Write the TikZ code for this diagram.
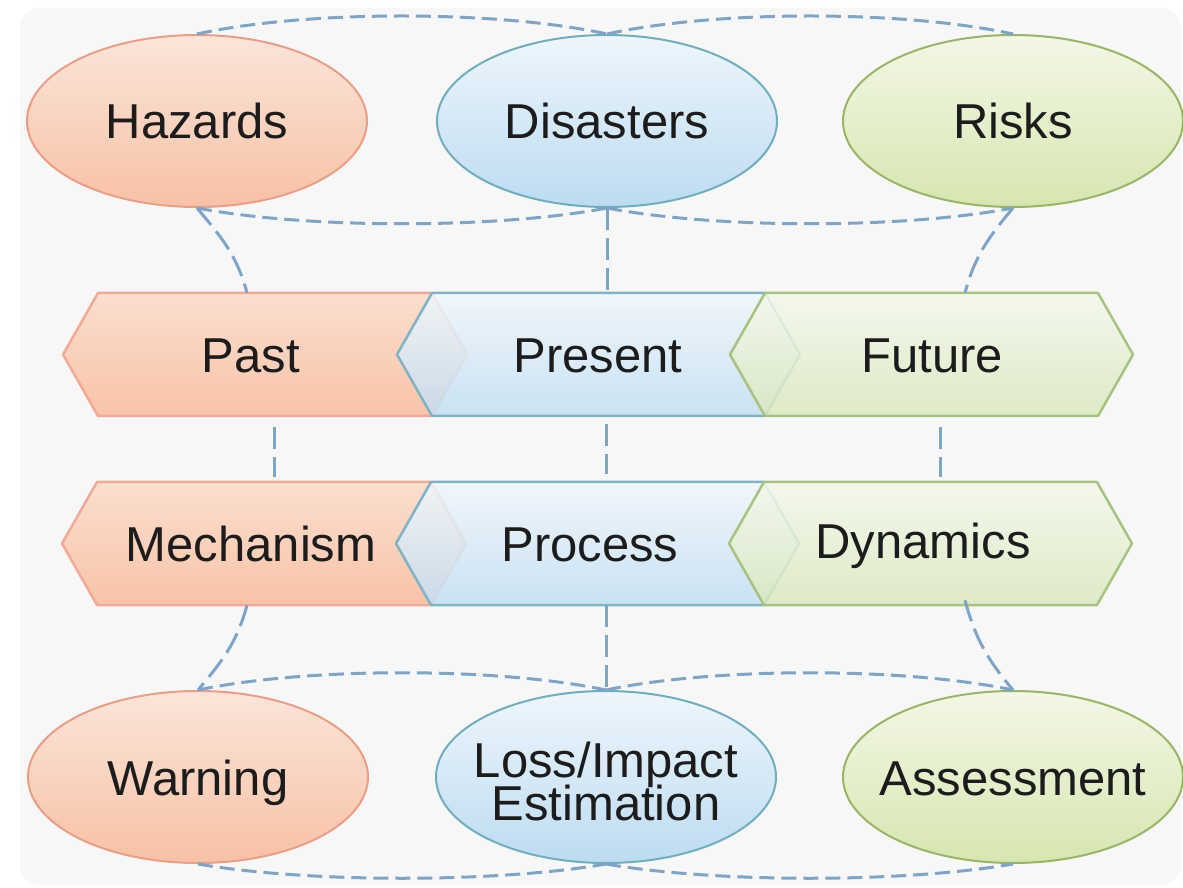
\documentclass[tikz,border=0pt]{standalone}
\usepackage{fontspec}
\setmainfont{Liberation Sans}
\usetikzlibrary{shapes.geometric,calc}
\definecolor{bgc}{HTML}{F7F7F7}
\definecolor{txt}{HTML}{1C1C1C}
\definecolor{dashc}{HTML}{7EA5C8}
\definecolor{eOs}{HTML}{EF9C87}
\definecolor{eOt}{HTML}{FBE5DA}
\definecolor{eOb}{HTML}{F7C1A5}
\definecolor{eBs}{HTML}{6FAFBD}
\definecolor{eBt}{HTML}{EEF6FC}
\definecolor{eBb}{HTML}{BDDBF1}
\definecolor{eGs}{HTML}{9AB565}
\definecolor{eGt}{HTML}{F3F7E7}
\definecolor{eGb}{HTML}{D7E6B0}
\definecolor{cOs}{HTML}{F3A997}
\definecolor{cOt}{HTML}{FBDECF}
\definecolor{cOb}{HTML}{F8C3A7}
\definecolor{cBs}{HTML}{80B4C4}
\definecolor{cBt}{HTML}{F0F6FC}
\definecolor{cBb}{HTML}{C2DFF3}
\definecolor{cGs}{HTML}{A8C282}
\definecolor{cGt}{HTML}{F4F8EB}
\definecolor{cGb}{HTML}{DAE8BF}
\newcommand\mybigfont{\fontsize{49}{43}\selectfont\lineskiplimit=-60pt\relax}
\begin{document}
\begin{tikzpicture}[x=1pt,y=1pt,
  bigfont/.style={font=\mybigfont},
  ell/.style={ellipse, minimum width=340pt, minimum height=172pt, inner xsep=-60pt, inner ysep=0pt,
    line width=2pt, bigfont, text=txt, text height=36pt, text depth=0pt},
  ellO/.style={ell, draw=eOs, top color=eOt, bottom color=eOb},
  ellB/.style={ell, draw=eBs, top color=eBt, bottom color=eBb},
  ellG/.style={ell, draw=eGs, top color=eGt, bottom color=eGb},
  chtxt/.style={rectangle, minimum height=123pt, inner sep=0pt, text height=36pt,
    text depth=0pt, bigfont, text=txt},
  chevO/.style={draw=cOs, line width=2.5pt, line join=round, top color=cOt, bottom color=cOb},
  chevB/.style={draw=cBs, line width=2.5pt, line join=round, top color=cBt, bottom color=cBb, fill opacity=0.85},
  chevG/.style={draw=cGs, line width=2.5pt, line join=round, top color=cGt, bottom color=cGb, fill opacity=0.85},
  arcline/.style={draw=dashc, line width=3pt, dash pattern=on 15pt off 7pt},
  conn/.style={draw=dashc, line width=3pt, dash pattern=on 22pt off 8pt},
]
\useasboundingbox (0,0) rectangle (1183,887);
\fill[white] (0,0) rectangle (1183,887);
\fill[bgc, rounded corners=20pt] (20,2) rectangle (1181,879);

% row 1 chevrons
\path[chevO] (63,532.5) -- (98,594) -- (432,594) -- (467,532.5) -- (432,471) -- (98,471) -- cycle;
\path[chevB] (397,532.5) -- (432,594) -- (765,594) -- (800,532.5) -- (765,471) -- (432,471) -- cycle;
\path[chevG] (730,532.5) -- (765,594) -- (1098,594) -- (1133,532.5) -- (1098,471) -- (765,471) -- cycle;
% row 2 chevrons
\path[chevO] (62,343.5) -- (97,405) -- (431,405) -- (466,343.5) -- (431,282) -- (97,282) -- cycle;
\path[chevB] (396,343.5) -- (431,405) -- (764,405) -- (799,343.5) -- (764,282) -- (431,282) -- cycle;
\path[chevG] (729,343.5) -- (764,405) -- (1097,405) -- (1132,343.5) -- (1097,282) -- (764,282) -- cycle;

\node[chtxt] (past) at (251,532.5) {Past};
\node[chtxt] (present) at (598,532.5) {Present};
\node[chtxt] (future) at (932,532.5) {Future};
\node[chtxt] (mech) at (251,343.5) {Mechanism};
\node[chtxt] (process) at (590,343.5) {Process};
\node[chtxt] (dyn) at (923,346) {Dynamics};

% ellipses
\node[ellO] (haz) at (197,766) {Hazards};
\node[ellB] (dis) at (607,766) {Disasters};
\node[ellG] (risk) at (1013,766) {Risks};
\node[ellO] (warn) at (198,110) {Warning};
\node[ellB] (loss) at (606,110) {};
\node[bigfont, align=center, inner sep=0pt, text=txt] (lossT) at (606,106) {Loss/Impact\\Estimation};
\node[ellG] (assess) at (1013,110) {Assessment};

% arcs
\draw[arcline] (haz.north) .. controls +(110,24) and +(-110,24) .. (dis.north);
\draw[arcline] (dis.north) .. controls +(110,24) and +(-110,24) .. (risk.north);
\draw[arcline] (haz.south) .. controls +(110,-21) and +(-110,-21) .. (dis.south);
\draw[arcline] (dis.south) .. controls +(110,-21) and +(-110,-21) .. (risk.south);
\draw[arcline] (warn.north) .. controls +(110,23) and +(-110,23) .. (loss.north);
\draw[arcline] (loss.north) .. controls +(110,23) and +(-110,23) .. (assess.north);
\draw[arcline] (warn.south) .. controls +(110,-19) and +(-110,-19) .. (loss.south);
\draw[arcline] (loss.south) .. controls +(110,-19) and +(-110,-19) .. (assess.south);

% connectors
\draw[conn] (haz.south) to[out=-50,in=105] ([xshift=-4pt]past.north);
\draw[conn] (dis.south) -- (dis.south |- present.north);
\draw[conn] (risk.south) to[out=-130,in=75] ([xshift=33pt]future.north);
\draw[conn] ([xshift=23pt,yshift=-11pt]past.south) -- ([xshift=23pt,yshift=5pt]mech.north);
\draw[conn] ([xshift=8pt,yshift=-8pt]present.south) -- ([xshift=16pt,yshift=8pt]process.north);
\draw[conn] ([xshift=8pt,yshift=-11pt]future.south) -- ([xshift=17pt,yshift=2pt]dyn.north);
\draw[conn] ([xshift=-4pt]mech.south) to[out=-105,in=50] (warn.north);
\draw[conn] (loss.north |- process.south) -- (loss.north);
\draw[conn] ([xshift=42pt,yshift=2.5pt]dyn.south) to[out=-75,in=130] (assess.north);
\end{tikzpicture}
\end{document}
